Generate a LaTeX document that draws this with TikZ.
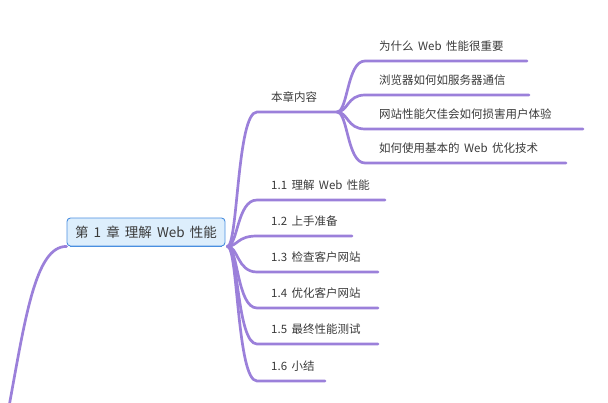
\documentclass[tikz,border=0pt]{standalone}
\usepackage{fontspec}
\setmainfont[WordSpace=1.7]{Noto Sans CJK SC}
\definecolor{branch}{HTML}{9B80DA}
\definecolor{txt}{HTML}{3A3A3A}
\definecolor{rootfill}{HTML}{DDEEFC}
\definecolor{rootdraw}{HTML}{4A8FE0}
\begin{document}
\begin{tikzpicture}[x=1pt,y=-1pt,
  conn/.style={draw=branch,line width=2.7pt,line cap=round},
  topic/.style={anchor=base west,inner sep=0pt,text=txt,font=\fontsize{11.5}{13}\selectfont},
  rootbox/.style={draw=rootdraw,fill=rootfill,line width=0.9pt,rounded corners=3.5pt,
    minimum width=158pt,minimum height=28pt,inner sep=0pt,text=txt,
    font=\fontsize{13.5}{15}\selectfont}]
\useasboundingbox (0,0) rectangle (608,402);
% root
\node[rootbox] (root) at (146,232) {第 1 章 理解 Web 性能};
\draw[rootdraw,line width=1.4pt] ([xshift=3pt]root.south west) -- ([xshift=-3pt]root.south east);
% parent link off the page
\coordinate (up) at (8,412);
\draw[conn] (root.south west) .. controls (35,246) and (25,320) .. (up);
% main topics
\coordinate (f) at ([xshift=2pt]root.south east);
\foreach \n/\y/\xe/\t in {a/112/337/本章内容, b/200/385/1.1 理解 Web 性能, c/236/352/1.2 上手准备,
  d/272/378/1.3 检查客户网站, e/308/378/1.4 优化客户网站, g/344/378/1.5 最终性能测试, h/381/325/1.6 小结}{
  \node[topic] (\n) at (271,\y-10.5) {\t};
  \coordinate (\n s) at (257,\y);
  \coordinate (\n e) at (\xe,\y);
  \draw[conn] (f) .. controls (238,246) and (237,\y) .. (\n s) -- (\n e);
}
% sub topics of 本章内容
\foreach \n/\y/\xe/\t in {s1/61/527/为什么 Web 性能很重要, s2/95/529/浏览器如何如服务器通信,
  s3/129/583/网站性能欠佳会如何损害用户体验, s4/163/566/如何使用基本的 Web 优化技术}{
  \node[topic] (\n) at (379,\y-10.5) {\t};
  \coordinate (\n s) at (365,\y);
  \coordinate (\n e) at (\xe,\y);
  \draw[conn] (ae) .. controls (348,112) and (347,\y) .. (\n s) -- (\n e);
}
\end{tikzpicture}
\end{document}
